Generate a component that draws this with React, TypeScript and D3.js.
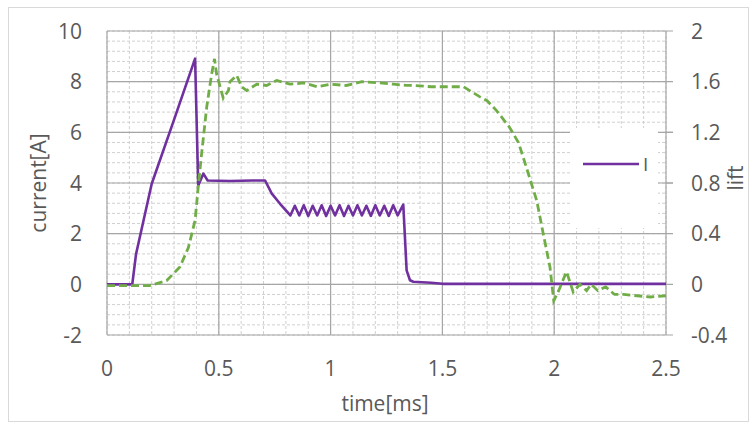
import React from "react";
import * as d3 from "d3";

const currentT = [0, 0.113, 0.13, 0.2, 0.3, 0.394, 0.408, 0.431, 0.45, 0.55, 0.65, 0.707, 0.737, 0.774, 0.82,
  0.84, 0.86, 0.88, 0.90, 0.92, 0.94, 0.96, 0.98, 1.00, 1.02, 1.04, 1.06, 1.08, 1.10, 1.12, 1.14, 1.16, 1.18, 1.20, 1.22, 1.24, 1.26, 1.28, 1.30, 1.325,
  1.34, 1.355, 1.37, 1.45, 1.5, 2.5];
const currentV = [0, 0, 1.2, 3.97, 6.5, 8.91, 3.9, 4.37, 4.1, 4.08, 4.1, 4.1, 3.58, 3.18, 2.72,
  3.1, 2.72, 3.12, 2.7, 3.1, 2.72, 3.12, 2.7, 3.1, 2.72, 3.12, 2.7, 3.1, 2.72, 3.12, 2.72, 3.1, 2.7, 3.12, 2.72, 3.1, 2.7, 3.12, 2.72, 3.15,
  0.55, 0.16, 0.1, 0.06, 0.02, 0.02];

const liftT = [0, 0.1, 0.19, 0.267, 0.326, 0.364, 0.394, 0.408, 0.423, 0.446, 0.468, 0.481, 0.49, 0.52, 0.543, 0.55, 0.58, 0.602, 0.625, 0.67, 0.714, 0.759, 0.818, 0.88, 0.94, 1.0, 1.07, 1.14, 1.221, 1.28, 1.34, 1.37, 1.45, 1.52, 1.594, 1.668, 1.70, 1.743, 1.80, 1.84, 1.862, 1.922, 1.951, 1.981, 1.998, 2.02, 2.055, 2.085, 2.115, 2.145, 2.165, 2.195, 2.23, 2.27, 2.31, 2.37, 2.43, 2.5];
const liftV = [-0.01, -0.01, -0.01, 0.03, 0.137, 0.29, 0.505, 0.77, 1.03, 1.40, 1.66, 1.78, 1.66, 1.47, 1.53, 1.60, 1.65, 1.56, 1.53, 1.58, 1.57, 1.61, 1.58, 1.59, 1.56, 1.58, 1.57, 1.60, 1.59, 1.58, 1.57, 1.57, 1.56, 1.56, 1.56, 1.48, 1.45, 1.37, 1.24, 1.12, 1.0, 0.66, 0.40, 0.137, -0.13, -0.05, 0.1, -0.06, 0.0, -0.05, 0.0, -0.05, -0.02, -0.08, -0.08, -0.09, -0.10, -0.09];

const xTicks = [0, 0.5, 1, 1.5, 2, 2.5];
const yLeftTicks = [-2, 0, 2, 4, 6, 8, 10];
const yRightTicks = [-0.4, 0, 0.4, 0.8, 1.2, 1.6, 2];
const xMinor = d3.range(0, 2.5001, 0.1);
const yMinor = d3.range(-2, 10.0001, 0.4);

const seriesName = "I";

export default function App() {
  const W = 751, H = 426;
  const left = 107, right = 666, top = 31, bottom = 335;
  const x = d3.scaleLinear().domain([0, 2.5]).range([left, right]);
  const yL = d3.scaleLinear().domain([-2, 10]).range([bottom, top]);
  const yR = d3.scaleLinear().domain([-0.4, 2]).range([bottom, top]);

  const lineI = d3.line<number>().x((_, i) => x(currentT[i])).y((d) => yL(d));
  const lineL = d3.line<number>().x((_, i) => x(liftT[i])).y((d) => yR(d));

  const txt = "#595959";
  const font = "'Open Sans', sans-serif";
  const fs = 21;
  const legend = { x: 570, y: 128, w: 88, h: 100 };

  return (
    <svg width={W} height={H} style={{ position: "absolute", left: 0, top: 0, background: "#fff" }}>
      <rect x={8.5} y={7.5} width={740} height={414} fill="#fff" stroke="#d9d9d9" strokeWidth={1} />
      {xMinor.map((t, i) => (
        <line key={"xm" + i} x1={x(t)} x2={x(t)} y1={top} y2={bottom} stroke="#d0d0d0" strokeWidth={1} strokeDasharray="3,2" />
      ))}
      {yMinor.map((v, i) => (
        <line key={"ym" + i} x1={left} x2={right} y1={yL(v)} y2={yL(v)} stroke="#d0d0d0" strokeWidth={1} strokeDasharray="3,2" />
      ))}
      {xTicks.map((t, i) => (
        <line key={"xM" + i} x1={x(t)} x2={x(t)} y1={top} y2={bottom} stroke="#a6a6a6" strokeWidth={1.2} />
      ))}
      {yLeftTicks.map((v, i) => (
        <line key={"yM" + i} x1={left} x2={right + 7} y1={yL(v)} y2={yL(v)} stroke="#a6a6a6" strokeWidth={1.2} />
      ))}
      <rect x={legend.x} y={legend.y} width={legend.w} height={legend.h} fill="#fff" />
      {[1.2, 0.8].map((v, i) => (
        <line key={"rt" + i} x1={right} x2={right + 7} y1={yR(v)} y2={yR(v)} stroke="#a6a6a6" strokeWidth={1.2} />
      ))}
      <path d={lineI(currentV) || ""} fill="none" stroke="#7030A0" strokeWidth={2.6} strokeLinejoin="round" />
      <path d={lineL(liftV) || ""} fill="none" stroke="#70AD47" strokeWidth={2.8} strokeDasharray="8,4" />
      <line x1={583} x2={639} y1={164} y2={164} stroke="#7030A0" strokeWidth={2.6} />
      <text x={643} y={171} fontFamily={font} fontSize={19} fill={txt}>{seriesName}</text>
      {yLeftTicks.map((v, i) => (
        <text key={"yl" + i} x={82} y={yL(v) + 7.5} textAnchor="end" fontFamily={font} fontSize={fs} fill={txt}>{v}</text>
      ))}
      {yRightTicks.map((v, i) => (
        <text key={"yr" + i} x={691} y={yR(v) + 7.5} textAnchor="start" fontFamily={font} fontSize={fs} fill={txt}>{v}</text>
      ))}
      {xTicks.map((t, i) => (
        <text key={"xl" + i} x={x(t)} y={376} textAnchor="middle" fontFamily={font} fontSize={fs} fill={txt}>{t}</text>
      ))}
      <text x={385} y={411} textAnchor="middle" fontFamily={font} fontSize={fs} fill={txt}>time[ms]</text>
      <text transform={`translate(46,${(top + bottom) / 2}) rotate(-90)`} textAnchor="middle" fontFamily={font} fontSize={fs} fill={txt}>current[A]</text>
      <text transform={`translate(742.5,178) rotate(-90)`} textAnchor="middle" fontFamily={font} fontSize={fs} fill={txt}>lift</text>
    </svg>
  );
}
